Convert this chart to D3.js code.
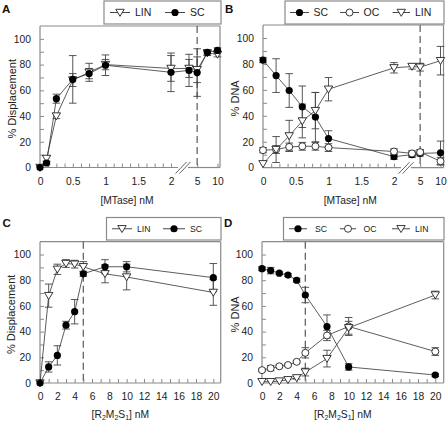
<!DOCTYPE html>
<html><head><meta charset="utf-8">
<script src="https://cdn.jsdelivr.net/npm/d3@7"></script>
<style>
html,body{margin:0;padding:0;background:#fff;}
svg{display:block;font-family:"Liberation Sans",Arial,Helvetica,sans-serif;}
</style></head>
<body>
<svg id="chart" width="447" height="422"></svg>
<script>
// ---------- DATA ----------
const yTicks = [0, 20, 40, 60, 80, 100];
const mtaseTickLabels = [0, 0.5, 1, 1.5, 2, 5, 10];
const r2m2s1TickLabels = [0, 2, 4, 6, 8, 10, 12, 14, 16, 18, 20];

// Panel A
const doseA = [0, 0.1, 0.25, 0.5, 0.75, 1, 2, 3, 5, 7.5, 10];
const aLIN = [0, 7, 40, 68, 74, 80, 77, 77, 76, 89, 88];
const aLINerr = [0, 2, 2, 5, 7, 4, 10, 7, 10, 2, 2];
const aSC = [0, 3.5, 53.5, 68.5, 73, 79.5, 74, 75.5, 73.8, 89.5, 91];
const aSCerr = [0, 1, 3.5, 18.5, 4, 8, 15, 12.5, 18.5, 2, 2];

// Panel B
const doseB = [0, 0.2, 0.4, 0.6, 0.8, 1, 2, 3, 5, 10];
const bSC = [83, 71, 59.5, 47, 39, 22.5, 8.5, 10, 11, 11.5];
const bSCerr = [2, 13, 13, 16, 19, 6, 2, 2, 2, 9];
const bOC = [13.5, 14, 16, 16.5, 16.5, 15.5, 12.5, 11, 12, 5];
const bOCerr = [2, 3, 3, 3, 3, 3, 2, 2, 2, 3];
const bLIN = [3, 14, 24.5, 36, 44, 60.5, 77, 78, 77.5, 82.5];
const bLINerr = [0, 10, 12, 13, 14, 9, 4, 2, 3, 11];

// Panel C
const doseC = [0, 1, 2, 3, 4, 5, 7.5, 10, 20];
const cLIN = [0, 68, 88.5, 93, 92.5, 90.5, 85, 82.5, 70.5];
const cLINerr = [0, 9, 4, 3, 3, 4, 7, 10, 10];
const cSC = [0, 12.5, 21.5, 45, 55.5, 85, 90.5, 90.5, 82];
const cSCerr = [0, 4, 7.5, 3, 9.5, 2, 5.5, 4, 11];

// Panel D
const doseD = [0, 1, 2, 3, 4, 5, 7.5, 10, 20];
const dSC = [89, 87.5, 85.5, 84, 80, 68.5, 44, 12.5, 6.2];
const dSCerr = [1.5, 2.5, 1, 1, 1.5, 6, 9, 2.5, 1];
const dOC = [10, 11.5, 13, 14, 16.5, 23.5, 37, 44, 24.5];
const dOCerr = [1, 2, 1, 1, 1, 4, 4, 7, 3];
const dLIN = [1, 1, 1.5, 2.5, 4, 8.5, 19, 43, 68.5];
const dLINerr = [0, 0, 0, 0, 1, 3, 6.5, 5, 3];

// ---------- STYLE / LAYOUT ----------
const FRAME = "#8a8a8a", INK = "#222", LINE = "#333";
const svg = d3.select("#chart");

const panels = [
  {letter:"A", lx:2, ly:12.7, left:40, top:26, w:180, h:141.5, kind:"mtase",
   ylabel:"% Displacement", ylabX:12, xlabel:"[MTase] nM",
   series:[{name:"LIN", sym:"tri", x:doseA, y:aLIN, e:aLINerr},
           {name:"SC", sym:"dot", x:doseA, y:aSC, e:aSCerr}],
   legend:{x0:104, y0:1, x1:221, y1:24, fs:10.5, items:[[110,130,135],[165,185,190]]}},
  {letter:"B", lx:225, ly:12.7, left:263, top:25, w:180.5, h:142.7, kind:"mtase",
   ylabel:"% DNA", ylabX:234.5, xlabel:"[MTase] nM",
   series:[{name:"SC", sym:"dot", x:doseB, y:bSC, e:bSCerr},
           {name:"OC", sym:"circ", x:doseB, y:bOC, e:bOCerr},
           {name:"LIN", sym:"tri", x:doseB, y:bLIN, e:bLINerr}],
   legend:{x0:285, y0:1, x1:444, y1:24, fs:10.5, items:[[290,309,313.5],[340,359,363.5],[392.5,410,415]]}},
  {letter:"C", lx:2.5, ly:227, left:40, top:241.7, w:180.7, h:141.3, kind:"r2",
   ylabel:"% Displacement", ylabX:10.5, xlabel:"R",
   series:[{name:"LIN", sym:"tri", x:doseC, y:cLIN, e:cLINerr},
           {name:"SC", sym:"dot", x:doseC, y:cSC, e:cSCerr}],
   legend:{x0:106.5, y0:217.5, x1:221, y1:240, fs:8.7, items:[[112,132,137],[163,185,190]]}},
  {letter:"D", lx:224, ly:227, left:262, top:241.7, w:181.7, h:141.3, kind:"r2",
   ylabel:"% DNA", ylabX:234.5, xlabel:"R",
   series:[{name:"SC", sym:"dot", x:doseD, y:dSC, e:dSCerr},
           {name:"OC", sym:"circ", x:doseD, y:dOC, e:dOCerr},
           {name:"LIN", sym:"tri", x:doseD, y:dLIN, e:dLINerr}],
   legend:{x0:283.5, y0:217.5, x1:444, y1:240, fs:8.7, items:[[289,307,315],[340,356,363.5],[392,410,415]]}}
];

function drawSymbol(g, sym, cx, cy) {
  if (sym === "dot") {
    g.append("circle").attr("cx", cx).attr("cy", cy).attr("r", 3.6).attr("fill", "#000");
  } else if (sym === "circ") {
    g.append("circle").attr("cx", cx).attr("cy", cy).attr("r", 3.5)
      .attr("fill", "#fff").attr("stroke", "#222").attr("stroke-width", 0.9);
  } else {
    const s = 4.2;
    g.append("path")
      .attr("d", `M${cx - s},${cy - 3.2}L${cx + s},${cy - 3.2}L${cx},${cy + 3.8}Z`)
      .attr("fill", "#fff").attr("stroke", "#222").attr("stroke-width", 0.9);
  }
}

panels.forEach(p => {
  const g = svg.append("g");
  const bottom = p.top + p.h;
  const y = d3.scaleLinear().domain([0, 110]).range([bottom, p.top]);
  let x;
  if (p.kind === "mtase") {
    x = d3.scaleLinear().domain([0, 2, 3, 10]).range([p.left, p.left + 131, p.left + 149, p.left + 177.5]);
  } else {
    x = d3.scaleLinear().domain([0, 20]).range([p.left, p.left + 173.3]);
  }

  // frame
  const right = p.left + p.w;
  g.append("line").attr("x1", p.left).attr("x2", right).attr("y1", p.top).attr("y2", p.top)
    .attr("stroke", FRAME).attr("stroke-width", 1.2);
  g.append("line").attr("x1", right).attr("x2", right).attr("y1", p.top).attr("y2", bottom)
    .attr("stroke", FRAME).attr("stroke-width", 1.2);
  g.append("line").attr("x1", p.left).attr("x2", p.left).attr("y1", p.top).attr("y2", bottom)
    .attr("stroke", FRAME).attr("stroke-width", 1.2);

  // y axis ticks (inward) and labels
  const yAxis = d3.axisRight(y).tickValues(d3.range(10, 110, 10)).tickSize(4).tickFormat("");
  const ya = g.append("g").attr("transform", `translate(${p.left},0)`).call(yAxis);
  ya.select(".domain").remove();
  ya.selectAll("line").attr("stroke", FRAME).attr("stroke-width", 1);
  const yLab = d3.axisLeft(y).tickValues(yTicks).tickSize(0).tickPadding(9);
  const yl = g.append("g").attr("transform", `translate(${p.left},0)`).call(yLab);
  yl.select(".domain").remove();
  yl.selectAll("text").attr("font-size", 10.3).attr("fill", INK).attr("font-family", null);

  // x axis
  if (p.kind === "mtase") {
    const brk = p.left + 143;
    g.append("line").attr("x1", p.left).attr("x2", brk - 5).attr("y1", bottom).attr("y2", bottom)
      .attr("stroke", FRAME).attr("stroke-width", 1.2);
    g.append("line").attr("x1", brk + 5).attr("x2", right).attr("y1", bottom).attr("y2", bottom)
      .attr("stroke", FRAME).attr("stroke-width", 1.2);
    [-2, 2].forEach(o => {
      g.append("line").attr("x1", brk + o - 5.5).attr("y1", bottom + 6)
        .attr("x2", brk + o + 5.5).attr("y2", bottom - 5.5)
        .attr("stroke", "#555").attr("stroke-width", 0.9);
    });
    const minor = d3.range(0.125, 2.0001, 0.125).concat([5, 10]);
    const xAxis = d3.axisTop(x).tickValues(minor).tickSize(4).tickFormat("");
    const xa = g.append("g").attr("transform", `translate(0,${bottom})`).call(xAxis);
    xa.select(".domain").remove();
    xa.selectAll("line").attr("stroke", FRAME).attr("stroke-width", 1);
    const xLab = d3.axisBottom(x).tickValues(mtaseTickLabels).tickSize(0).tickPadding(10)
      .tickFormat(d3.format("~g"));
    const xl = g.append("g").attr("transform", `translate(0,${bottom})`).call(xLab);
    xl.select(".domain").remove();
    xl.selectAll("text").attr("font-size", 10.3).attr("fill", INK).attr("font-family", null);
  } else {
    g.append("line").attr("x1", p.left).attr("x2", right).attr("y1", bottom).attr("y2", bottom)
      .attr("stroke", FRAME).attr("stroke-width", 1.2);
    const xAxis = d3.axisTop(x).tickValues(d3.range(1, 21, 1)).tickSize(4).tickFormat("");
    const xa = g.append("g").attr("transform", `translate(0,${bottom})`).call(xAxis);
    xa.select(".domain").remove();
    xa.selectAll("line").attr("stroke", FRAME).attr("stroke-width", 1);
    const xLab = d3.axisBottom(x).tickValues(r2m2s1TickLabels).tickSize(0).tickPadding(10);
    const xl = g.append("g").attr("transform", `translate(0,${bottom})`).call(xLab);
    xl.select(".domain").remove();
    xl.selectAll("text").attr("font-size", 10.3).attr("fill", INK).attr("font-family", null);
  }

  // dashed line at 5
  g.append("line").attr("x1", x(5)).attr("x2", x(5)).attr("y1", p.top).attr("y2", bottom)
    .attr("stroke", "#666").attr("stroke-width", 1.3).attr("stroke-dasharray", "7,4");

  // axis titles
  const cx = (p.left + right) / 2;
  if (p.xlabel === "R") {
    const t = g.append("text").attr("x", cx - 10).attr("y", bottom + 35)
      .attr("text-anchor", "middle").attr("font-size", 10.3).attr("fill", INK);
    t.append("tspan").text("[R");
    t.append("tspan").text("2").attr("font-size", 7).attr("dy", 2);
    t.append("tspan").text("M").attr("dy", -2);
    t.append("tspan").text("2").attr("font-size", 7).attr("dy", 2);
    t.append("tspan").text("S").attr("dy", -2);
    t.append("tspan").text("1").attr("font-size", 7).attr("dy", 2);
    t.append("tspan").text("] nM").attr("dy", -2);
  } else {
    g.append("text").attr("x", cx - 3).attr("y", bottom + 36)
      .attr("text-anchor", "middle").attr("font-size", 10.3).attr("fill", INK).text(p.xlabel);
  }
  const cyMid = (p.top + bottom) / 2;
  g.append("text").attr("transform", `translate(${p.ylabX + 4},${cyMid + 2}) rotate(-90)`)
    .attr("text-anchor", "middle").attr("font-size", 11).attr("fill", INK).text(p.ylabel);

  // panel letter
  g.append("text").attr("x", p.lx).attr("y", p.ly).attr("font-size", 11.5)
    .attr("font-weight", "bold").attr("fill", "#111").text(p.letter);

  // series
  p.series.forEach(s => {
    const pts = s.x.map((d, i) => ({x: d, y: s.y[i], e: s.e[i]}));
    const eg = g.append("g");
    pts.filter(d => d.e > 0).forEach(d => {
      const px = x(d.x);
      eg.append("line").attr("x1", px).attr("x2", px).attr("y1", y(d.y - d.e)).attr("y2", y(d.y + d.e))
        .attr("stroke", "#444").attr("stroke-width", 0.9);
      [d.y - d.e, d.y + d.e].forEach(v => {
        eg.append("line").attr("x1", px - 3.8).attr("x2", px + 3.8).attr("y1", y(v)).attr("y2", y(v))
          .attr("stroke", "#444").attr("stroke-width", 0.9);
      });
    });
  });
  p.series.forEach(s => {
    const pts = s.x.map((d, i) => ({x: d, y: s.y[i]}));
    g.append("path").datum(pts)
      .attr("d", d3.line().x(d => x(d.x)).y(d => y(d.y)))
      .attr("fill", "none").attr("stroke", LINE).attr("stroke-width", 0.8);
  });
  p.series.forEach(s => {
    const mg = g.append("g");
    s.x.forEach((d, i) => drawSymbol(mg, s.sym, x(d), y(s.y[i])));
  });

  // legend
  const L = p.legend;
  g.append("rect").attr("x", L.x0).attr("y", L.y0).attr("width", L.x1 - L.x0).attr("height", L.y1 - L.y0)
    .attr("fill", "#fff").attr("stroke", FRAME).attr("stroke-width", 1.2);
  const ly = (L.y0 + L.y1) / 2;
  p.series.forEach((s, i) => {
    const [a, b, tx] = L.items[i];
    g.append("line").attr("x1", a).attr("x2", b).attr("y1", ly).attr("y2", ly)
      .attr("stroke", LINE).attr("stroke-width", 0.9);
    drawSymbol(g, s.sym, (a + b) / 2, ly);
    g.append("text").attr("x", tx).attr("y", ly + L.fs * 0.36).attr("font-size", L.fs)
      .attr("fill", INK).text(s.name);
  });
});
</script>
</body></html>
